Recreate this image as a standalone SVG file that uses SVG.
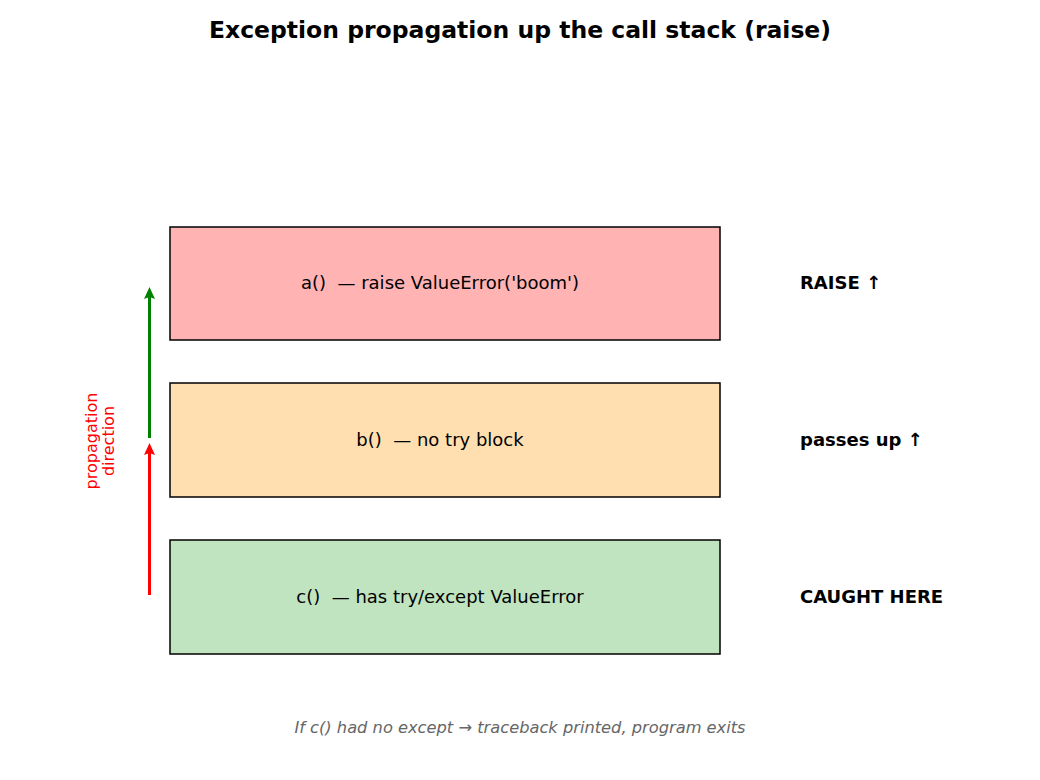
<svg xmlns="http://www.w3.org/2000/svg" width="1040" height="780" viewBox="0 0 1040 780">
<style>
text{font-family:"DejaVu Sans",sans-serif;}
.box{stroke:#000;stroke-width:1.5;}
.lbl{font-size:18px;text-anchor:middle;dominant-baseline:central;fill:#000;white-space:pre;}
.side{font-size:18px;font-weight:bold;dominant-baseline:central;fill:#000;}
</style>
<rect width="1040" height="780" fill="#fff"/>
<text x="520" y="30" font-size="23.5" font-weight="bold" text-anchor="middle" dominant-baseline="central">Exception propagation up the call stack (raise)</text>
<g id="node-a">
<rect class="box" x="170" y="227" width="550" height="113" fill="#ffb3b3"/>
<text class="lbl" x="440" y="282" xml:space="preserve">a()  — raise ValueError('boom')</text>
</g>
<g id="node-b">
<rect class="box" x="170" y="383" width="550" height="114" fill="#ffdfb0"/>
<text class="lbl" x="440" y="439" xml:space="preserve">b()  — no try block</text>
</g>
<g id="node-c">
<rect class="box" x="170" y="540" width="550" height="114" fill="#c0e3c0"/>
<text class="lbl" x="440" y="596" xml:space="preserve">c()  — has try/except ValueError</text>
</g>
<g id="side-labels">
<text class="side" x="800" y="282">RAISE ↑</text>
<text class="side" x="800" y="439">passes up ↑</text>
<text class="side" x="800" y="596">CAUGHT HERE</text>
</g>
<g id="connectors">
<line x1="149.5" y1="438" x2="149.5" y2="296" stroke="green" stroke-width="3"/>
<path d="M149.5,287 L155,299 L149.5,297 L144,299 Z" fill="green"/>
<line x1="149.5" y1="595" x2="149.5" y2="452" stroke="red" stroke-width="3"/>
<path d="M149.5,443 L155,455 L149.5,453 L144,455 Z" fill="red"/>
</g>
<text transform="translate(100,441) rotate(-90)" font-size="16" fill="red" text-anchor="middle"><tspan x="0" y="-3">propagation</tspan><tspan x="0" y="14">direction</tspan></text>
<text x="520" y="727" font-size="16.25" font-style="italic" fill="#666" text-anchor="middle" dominant-baseline="central">If c() had no except → traceback printed, program exits</text>
</svg>
